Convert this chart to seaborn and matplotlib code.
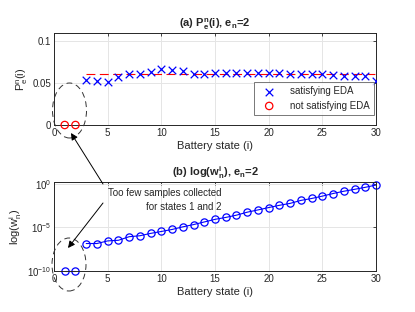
import numpy as np
import pandas as pd
import matplotlib.pyplot as plt
import seaborn as sns
from matplotlib.patches import Ellipse, FancyArrowPatch

# values
states = list(range(1, 31))
pe_values = [0, 0, 0.0536, 0.0528, 0.052, 0.057, 0.061, 0.061, 0.0635, 0.0667,
             0.066, 0.065, 0.0607, 0.061, 0.062, 0.0627, 0.062, 0.0627, 0.0627, 0.062,
             0.0623, 0.0615, 0.0615, 0.0615, 0.0607, 0.060, 0.059, 0.059, 0.0583, 0.0528]
eda_ok = [False, False] + [True] * 28
eda_level = 0.0605
log_w = [-10, -10, -6.85, -6.85, -6.55, -6.48, -6.07, -5.96, -5.69, -5.47,
         -5.24, -4.94, -4.68, -4.38, -4.08, -3.86, -3.60, -3.26, -3.00, -2.73,
         -2.47, -2.25, -1.91, -1.69, -1.42, -1.12, -0.86, -0.64, -0.41, -0.15]
segment = [1, 1] + [2] * 28

df = pd.DataFrame({'state': states, 'pe': pe_values, 'ok': eda_ok,
                   'w': np.power(10.0, log_w), 'seg': segment})

sns.set_style('white')
plt.rcParams['font.family'] = ['Liberation Sans', 'DejaVu Sans']
plt.rcParams['mathtext.fontset'] = 'custom'
plt.rcParams['mathtext.rm'] = 'Liberation Sans'
plt.rcParams['mathtext.it'] = 'Liberation Sans'
plt.rcParams['mathtext.bf'] = 'Liberation Sans:bold'

W, H = 415, 312
fig = plt.figure(figsize=(W / 100, H / 100), dpi=100)
ax1 = fig.add_axes([54 / W, 1 - 125 / H, 322 / W, 92 / H])
ax2 = fig.add_axes([54 / W, 1 - 271 / H, 322 / W, 89 / H])

text_col = '#262626'
grid_col = '#e5e5e5'

# (a) probabilities
ok = df[df['ok']]
bad = df[~df['ok']]
ax1.plot([3, 30], [eda_level, eda_level], color='red', lw=0.8, dashes=(8, 4), zorder=2)
sns.scatterplot(data=ok, x='state', y='pe', ax=ax1, marker='x', color='blue',
                s=30, linewidth=0.9, label='satisfying EDA', zorder=3)
sns.scatterplot(data=bad, x='state', y='pe', ax=ax1, marker='o', facecolor='none',
                edgecolor='red', s=28, linewidth=0.9, label='not satisfying EDA',
                zorder=3, clip_on=False)
ax1.set_xlim(0, 30)
ax1.set_ylim(0, 0.11)
ax1.set_yticks([0, 0.05, 0.1])
ax1.set_yticklabels(['0', '0.05', '0.1'])
ax1.set_xlabel('Battery state (i)', fontsize=8, color=text_col, labelpad=2)
ax1.set_ylabel(r'P$^n_e$(i)', fontsize=8, color=text_col, labelpad=2)
ax1.set_title(r'(a) $\mathbf{P^n_e}$(i), e$_\mathbf{n}$=2', fontsize=8,
              fontweight='bold', pad=4)
leg = ax1.legend(loc='lower right', bbox_to_anchor=(0.993, 0.11), fontsize=7,
                 frameon=True, fancybox=False, edgecolor='#555555',
                 handletextpad=1.0, borderpad=0.45, labelspacing=0.45,
                 borderaxespad=0, handlelength=2.2)
leg.get_frame().set_linewidth(0.7)

# (b) weights
for seg, part in df.groupby('seg'):
    sns.lineplot(data=part, x='state', y='w', ax=ax2, color='blue', lw=0.8,
                 marker='o', markersize=5.2, markerfacecolor='none',
                 markeredgecolor='blue', markeredgewidth=0.9, clip_on=False)
ax2.set_yscale('log')
ax2.set_xlim(0, 30)
ax2.set_ylim(1e-10, 10 ** 0.2)
ax2.set_yticks([1e-10, 1e-5, 1e0])
ax2.set_yticklabels([r'10$^{-10}$', r'10$^{-5}$', r'10$^{0}$'])
ax2.minorticks_off()
ax2.set_xlabel('Battery state (i)', fontsize=8, color=text_col, labelpad=2)
ax2.set_ylabel(r'log(w$^i_n$)', fontsize=8, color=text_col, labelpad=2)
ax2.set_title(r'(b) log(w$\mathbf{^i_n}$), e$_\mathbf{n}$=2', fontsize=8,
              fontweight='bold', pad=4)

for ax in (ax1, ax2):
    ax.set_xticks(range(0, 31, 5))
    ax.grid(True, color=grid_col, lw=0.7)
    ax.tick_params(direction='in', length=2.5, width=0.6, labelsize=7,
                   colors=text_col, top=True, right=True, pad=2)
    for sp in ax.spines.values():
        sp.set_color('#262626')
        sp.set_linewidth(0.7)
    ax.set_axisbelow(True)

def fpt(x, y):
    return (x / W, 1 - y / H)

# dashed ellipses around states 1 and 2
for cx, cy, h in [(69.5, 110.5, 55), (69, 264.5, 53)]:
    e = Ellipse(fpt(cx, cy), 34 / W, h / H, transform=fig.transFigure,
                fill=False, ls=(0, (6, 4)), lw=0.7, edgecolor='#333333')
    fig.add_artist(e)

fig.text(221 / W, 1 - 200 / H, 'Too few samples collected\nfor states 1 and 2',
         ha='right', va='center', multialignment='right', fontsize=7,
         color=text_col, linespacing=1.45)
for tail, tip in [((103, 184), (71, 133)), ((103, 203), (68, 248))]:
    arr = FancyArrowPatch(fpt(*tail), fpt(*tip), transform=fig.transFigure,
                          arrowstyle='-|>,head_length=4,head_width=2',
                          color='black', lw=0.7, shrinkA=0, shrinkB=0)
    fig.add_artist(arr)

fig.savefig('out.png', dpi=100)
